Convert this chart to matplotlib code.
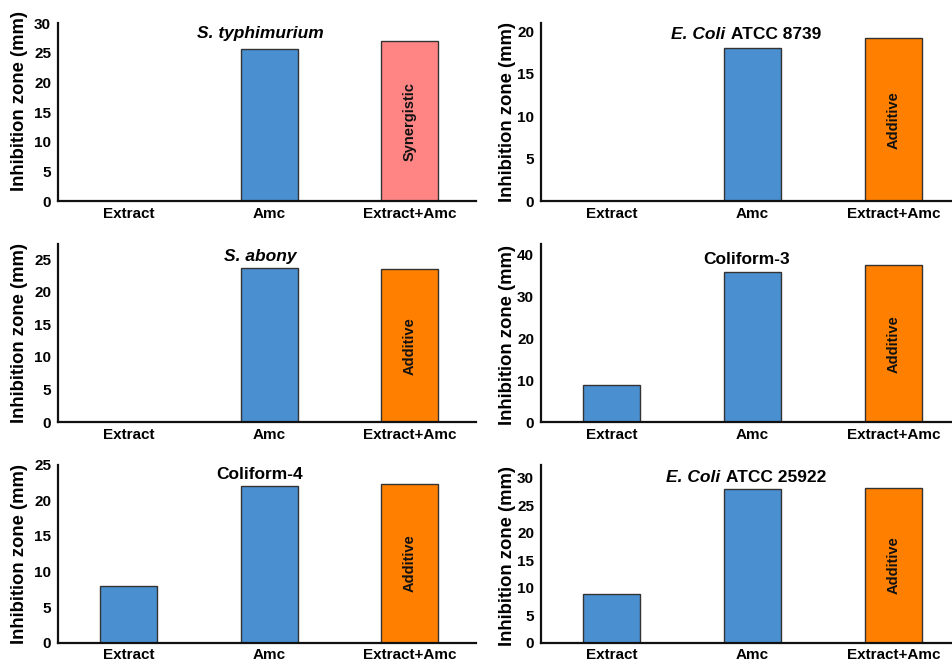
import matplotlib
matplotlib.use("Agg")
import matplotlib.pyplot as plt
from matplotlib.transforms import offset_copy

plt.rcParams['font.family'] = ['Liberation Sans', 'DejaVu Sans']

categories = ["Extract", "Amc", "Extract+Amc"]
# each title: (italic part, upright part)
title_italic = ["S. typhimurium", "E. Coli", "S. abony", "", "", "E. Coli"]
title_plain = ["", " ATCC 8739", "", "Coliform-3", "Coliform-4", " ATCC 25922"]
values = [
    [0, 25.7, 27.0],
    [0, 18.0, 19.2],
    [0, 23.6, 23.4],
    [8.9, 36.0, 37.5],
    [8.0, 22.0, 22.3],
    [8.9, 28.0, 28.2],
]
effects = ["Synergistic", "Additive", "Additive", "Additive", "Additive", "Additive"]
ylims = [30, 21, 27.3, 42.6, 25, 32.4]
yticks = [
    [0, 5, 10, 15, 20, 25, 30],
    [0, 5, 10, 15, 20],
    [0, 5, 10, 15, 20, 25],
    [0, 10, 20, 30, 40],
    [0, 5, 10, 15, 20, 25],
    [0, 5, 10, 15, 20, 25, 30],
]

BLUE = "#4A8FD0"
ORANGE = "#FF8000"
PINK = "#FF8585"
effect_colors = {"Synergistic": PINK, "Additive": ORANGE}

W, H = 952, 661
fig = plt.figure(figsize=(W / 100, H / 100), dpi=100)
renderer = fig.canvas.get_renderer()

cols = [(58, 418, 2.47), (541, 411, 2.415)]
rows = [(23, 201.3), (244, 422.3), (464.5, 642.7)]
title_off = [10, 11, 12, 15, 10, 13]
ylabel_y = [0.563, 0.5, 0.5, 0.49, 0.5, 0.486]
TFS = 12.5

for i in range(6):
    r, c = divmod(i, 2)
    left, width, xmax = cols[c]
    top, bottom = rows[r]
    ax = fig.add_axes([left / W, 1 - bottom / H, width / W, (bottom - top) / H])
    vals = values[i]
    colors = [BLUE, BLUE, effect_colors[effects[i]]]
    x = list(range(len(categories)))
    ax.bar(x, vals, width=0.405, color=colors, edgecolor="#333333", linewidth=1.0, zorder=2)
    ax.set_xlim(-0.5, xmax)
    ax.set_ylim(0, ylims[i])
    ax.set_xticks(x)
    ax.set_xticklabels(categories, fontsize=11, fontweight="bold")
    ax.set_yticks(yticks[i])
    ax.set_yticklabels([str(t) for t in yticks[i]], fontsize=11, fontweight="bold")
    ax.tick_params(axis="x", length=0, pad=4)
    ax.tick_params(axis="y", length=0, pad=5)
    for s in ["top", "right"]:
        ax.spines[s].set_visible(False)
    for s in ["left", "bottom"]:
        ax.spines[s].set_linewidth(1.6)
        ax.spines[s].set_color("#111111")
    ax.set_ylabel("Inhibition zone (mm)", fontsize=13.3, fontweight="bold", va="center")
    lx = (20 - 58) / 418 if c == 0 else (508 - 541) / 411
    ax.yaxis.set_label_coords(lx, ylabel_y[i])

    # title composed of an italic part and an upright part, centred together
    tx = 0.483 if c == 0 else 0.499
    ty = 1 - title_off[i] / (bottom - top)
    it, pl = title_italic[i], title_plain[i]
    w_it = w_pl = 0.0
    if it:
        t_tmp = fig.text(0, 0, it, fontsize=TFS, fontweight="bold", fontstyle="italic")
        w_it = t_tmp.get_window_extent(renderer).width
        t_tmp.remove()
    if pl:
        t_tmp = fig.text(0, 0, pl.replace(" ", "\u00a0"), fontsize=TFS, fontweight="bold")
        w_pl = t_tmp.get_window_extent(renderer).width
        t_tmp.remove()
    total = w_it + w_pl
    start = offset_copy(ax.transAxes, fig=fig, x=-total / 2, y=0, units="dots")
    if it:
        ax.text(tx, ty, it, transform=start, ha="left", va="center",
                fontsize=TFS, fontweight="bold", fontstyle="italic")
    if pl:
        tr2 = offset_copy(ax.transAxes, fig=fig, x=-total / 2 + w_it, y=0, units="dots")
        ax.text(tx, ty, pl.replace(" ", "\u00a0"), transform=tr2, ha="left", va="center",
                fontsize=TFS, fontweight="bold")

    ax.text(2, vals[2] / 2, effects[i], rotation=90, ha="center", va="center",
            fontsize=10.5, fontweight="bold", color="#111111", zorder=3)

fig.savefig("out.png", dpi=100)
